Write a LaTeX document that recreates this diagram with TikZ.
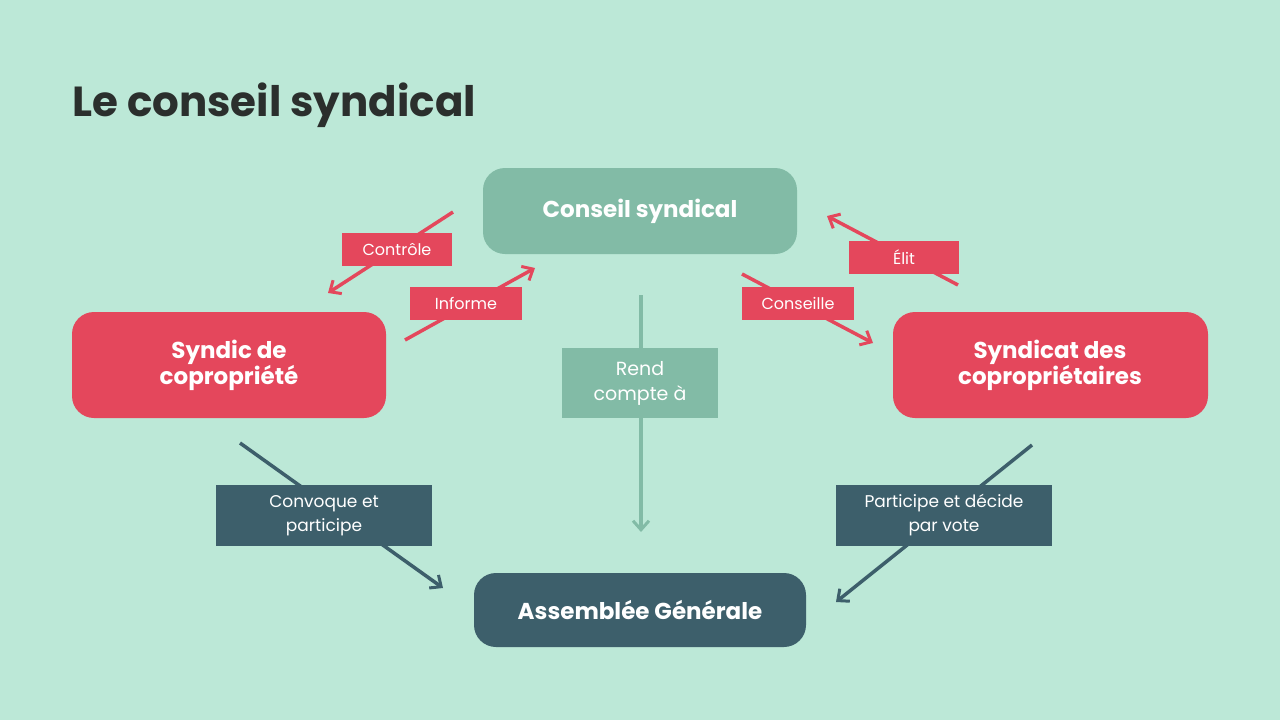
\documentclass[tikz,border=0pt]{standalone}
\usepackage{fontspec}
\setmainfont{Poppins}
\usetikzlibrary{arrows.meta}
\definecolor{bg}{HTML}{BCE8D7}
\definecolor{teal}{HTML}{82BBA6}
\definecolor{rd}{HTML}{E4475C}
\definecolor{dk}{HTML}{3D5F6B}
\definecolor{ttl}{HTML}{2B2F2D}
\tikzset{
 box/.style={rounded corners=22pt,text=white,font=\bfseries\fontsize{23}{24}\selectfont,align=center,inner sep=0pt},
 lab/.style={text=white,font=\fontsize{16}{20}\selectfont,align=center,inner sep=0pt},
 arr/.style={line width=3.5pt,-{Straight Barb[length=9pt,width=16pt,line width=3pt]}}
}
\begin{document}
\begin{tikzpicture}[x=1pt,y=-1pt]
\fill[bg] (0,0) rectangle (1280,720);
\useasboundingbox (0,0) rectangle (1280,720);
\node[anchor=base west,text=ttl,font=\bfseries\fontsize{42}{44}\selectfont,inner sep=0pt] (title) at (72,116) {Le conseil syndical};
% boxes
\fill[teal,rounded corners=22pt] (483,168) rectangle (797,254);
\node[box] (cs) at (640,211) {Conseil syndical};
\fill[rd,rounded corners=22pt] (72,312) rectangle (386,418);
\node[box] (sc) at (229,365) {Syndic de\\copropriété};
\fill[rd,rounded corners=22pt] (893,312) rectangle (1208,418);
\node[box] (sdc) at (1050,365) {Syndicat des\\copropriétaires};
\fill[dk,rounded corners=22pt] (474,573) rectangle (806,647);
\node[box] (ag) at (640,610) {Assemblée Générale};
% arrows
\coordinate (c1) at (453,212); \coordinate (c2) at (328,293);
\coordinate (i1) at (405,340); \coordinate (i2) at (535,268);
\coordinate (e1) at (958,285); \coordinate (e2) at (827,216);
\coordinate (k1) at (742,274); \coordinate (k2) at (873,343);
\coordinate (r1) at (641,295); \coordinate (r2) at (641,532);
\coordinate (v1) at (240,443); \coordinate (v2) at (443,588);
\coordinate (p1) at (1032,445); \coordinate (p2) at (836,602);
\draw[arr,rd] (c1) -- (c2);
\draw[arr,rd] (i1) -- (i2);
\draw[arr,rd] (e1) -- (e2);
\draw[arr,rd] (k1) -- (k2);
\draw[arr,teal] (r1) -- (r2);
\draw[arr,dk] (v1) -- (v2);
\draw[arr,dk] (p1) -- (p2);
% labels
\fill[rd] (342,233) rectangle (452,266); \node[lab] (lc) at (397,249.5) {Contrôle};
\fill[rd] (410,287) rectangle (522,320); \node[lab] (li) at (466,303.5) {Informe};
\fill[rd] (849,241) rectangle (959,274); \node[lab] (le) at (904,257.5) {Élit};
\fill[rd] (742,287) rectangle (854,320); \node[lab] (lk) at (798,303.5) {Conseille};
\fill[teal] (562,348) rectangle (718,418); \node[lab,font=\fontsize{19}{25}\selectfont] (lr) at (640,383) {Rend\\compte à};
\fill[dk] (216,485) rectangle (432,546); \node[lab,font=\fontsize{17}{24}\selectfont] (lv) at (324,515.5) {Convoque et\\participe};
\fill[dk] (836,485) rectangle (1052,546); \node[lab,font=\fontsize{17}{24}\selectfont] (lp) at (944,515.5) {Participe et décide\\par vote};
\end{tikzpicture}
\end{document}
